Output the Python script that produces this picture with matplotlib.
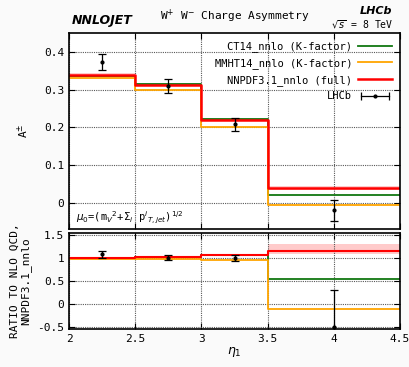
import numpy as np
import matplotlib
matplotlib.use("Agg")
import matplotlib.pyplot as plt
from matplotlib.lines import Line2D
from matplotlib.legend_handler import HandlerLine2D, HandlerTuple

# --- Input data ---------------------------------------------------------
edges = [2.0, 2.5, 3.0, 3.5, 4.5]

# Charge asymmetry predictions per bin
ct14 = [0.337, 0.315, 0.221, 0.019]
mmht14 = [0.330, 0.300, 0.200, -0.005]
nnpdf = [0.339, 0.313, 0.220, 0.039]
nnpdf_lo = [0.334, 0.309, 0.217, 0.034]
nnpdf_hi = [0.345, 0.318, 0.224, 0.045]

# LHCb data
data_x = [2.25, 2.75, 3.25, 4.0]
data_y = [0.373, 0.309, 0.208, -0.020]
data_err = [0.021, 0.019, 0.017, 0.028]

# Ratios to NLO QCD (NNPDF3.1_nnlo)
r_ct14 = [1.00, 1.02, 1.06, 0.54]
r_mmht14 = [0.98, 0.985, 0.96, -0.12]
r_nnpdf = [1.00, 1.03, 1.07, 1.15]
r_nnpdf_lo = [0.98, 1.01, 1.05, 1.08]
r_nnpdf_hi = [1.02, 1.05, 1.09, 1.30]
r_data = [1.08, 1.01, 1.00, -0.50]
r_data_err = [0.07, 0.06, 0.07, 0.81]

plt.rcParams["font.family"] = ["DejaVu Sans Mono"]


def steps(vals):
    return list(vals) + [vals[-1]]


fig = plt.figure(figsize=(4.09, 3.67), dpi=100)
fig.patch.set_facecolor("#fafafa")
ax = fig.add_axes([0.169, 0.376, 0.809, 0.534])
ax2 = fig.add_axes([0.169, 0.104, 0.809, 0.261])

for a in (ax, ax2):
    a.set_xlim(2, 4.5)
    a.grid(True, color="0.35", ls=(0, (1, 1)), lw=0.8)
    a.tick_params(direction="in", top=True, right=True, length=4, labelsize=8)
    for s in a.spines.values():
        s.set_linewidth(1.2)

# Top panel
ax.fill_between(edges, steps(nnpdf_lo), steps(nnpdf_hi), step="post",
                color="#ff9999", alpha=0.5, lw=0)
h_ct, = ax.step(edges, steps(ct14), where="post", color="#117711", lw=1.3)
h_mm, = ax.step(edges, steps(mmht14), where="post", color="orange", lw=1.3)
h_nn, = ax.step(edges, steps(nnpdf), where="post", color="red", lw=1.8)
ax.errorbar(data_x, data_y, yerr=data_err, fmt="o", ms=2, color="black",
            capsize=3, elinewidth=0.9, capthick=0.9)
ax.set_ylim(-0.07, 0.45)
ax.set_yticks([0, 0.1, 0.2, 0.3, 0.4])
ax.set_yticklabels(["0", "0.1", "0.2", "0.3", "0.4"])
ax.set_xticks([2, 2.5, 3, 3.5, 4, 4.5])
ax.tick_params(labelbottom=False)
ax.set_ylabel("A$^{\\pm}$", fontsize=8)

# LHCb legend key: horizontal bar with end caps and a dot
caps = Line2D([], [], color="black", lw=0.9, marker="|", ms=6, mew=0.9)
dot = Line2D([], [], color="black", ls="none", marker="o", ms=2)
leg = ax.legend([h_ct, h_mm, h_nn, (caps, dot)],
                ["CT14_nnlo (K-factor)", "MMHT14_nnlo (K-factor)",
                 "NNPDF3.1_nnlo (full)", "LHCb"],
                handler_map={caps: HandlerLine2D(numpoints=2),
                             dot: HandlerLine2D(numpoints=1),
                             tuple: HandlerTuple(ndivide=1)},
                loc="upper right", frameon=False, markerfirst=False,
                fontsize=7.5, handlelength=3.2, borderaxespad=0.4,
                labelspacing=0.55, handletextpad=0.6)
ax.text(0.02, 0.04, r"$\mu_0$=(m$_V$$^2$+$\Sigma_i$ p$^i$$_{T,jet}$)$^{1/2}$",
        transform=ax.transAxes, fontsize=7.5)

# Bottom panel
ax2.fill_between(edges, steps(r_nnpdf_lo), steps(r_nnpdf_hi), step="post",
                 color="#ff9999", alpha=0.5, lw=0)
ax2.step(edges, steps(r_ct14), where="post", color="#117711", lw=1.3)
ax2.step(edges, steps(r_mmht14), where="post", color="orange", lw=1.3)
ax2.step(edges, steps(r_nnpdf), where="post", color="red", lw=1.5)
ax2.errorbar(data_x, r_data, yerr=r_data_err, fmt="o", ms=2, color="black",
             capsize=3, elinewidth=0.9, capthick=0.9)
ax2.set_ylim(-0.55, 1.55)
ax2.set_yticks([-0.5, 0, 0.5, 1, 1.5])
ax2.set_yticklabels(["-0.5", "0", "0.5", "1", "1.5"])
ax2.set_xticks([2, 2.5, 3, 3.5, 4, 4.5])
ax2.set_xticklabels(["2", "2.5", "3", "3.5", "4", "4.5"])
ax2.set_xlabel("$\\eta_1$", fontsize=9, labelpad=1)
ax2.set_ylabel("RATIO TO NLO QCD,\nNNPDF3.1_nnlo", fontsize=8, linespacing=1.0)
ax2.yaxis.set_label_coords(-0.115, 0.5)
ax.yaxis.set_label_coords(-0.115, 0.5)

# Header texts
fig.text(0.575, 0.955, "W$^{+}$ W$^{-}$ Charge Asymmetry", ha="center",
         va="center", fontsize=8)
fig.text(0.175, 0.945, "NNLOJET", ha="left", va="center", fontsize=9,
         fontweight="bold", style="italic", family="DejaVu Sans")
fig.text(0.958, 0.97, "LHCb", ha="right", va="center", fontsize=8,
         fontweight="bold", style="italic", family="DejaVu Sans")
fig.text(0.962, 0.933, "$\\sqrt{s}$ = 8 TeV", ha="right", va="center",
         fontsize=7)

fig.savefig("out.png", dpi=100, facecolor=fig.get_facecolor())
